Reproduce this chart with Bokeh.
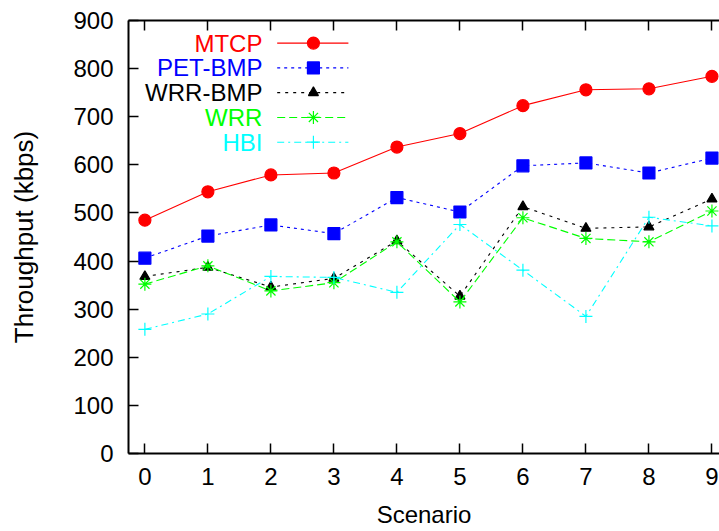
from bokeh.plotting import figure
from bokeh.models import LinearAxis, Range1d, FixedTicker, CustomJSTickFormatter
from bokeh.core.properties import value
from bokeh.embed import file_html
from bokeh.resources import INLINE

# ---- data ----
scenarios = [0, 1, 2, 3, 4, 5, 6, 7, 8, 9]
y_ticks = [0, 100, 200, 300, 400, 500, 600, 700, 800, 900]
series_names = ["MTCP", "PET-BMP", "WRR-BMP", "WRR", "HBI"]
mtcp = [485, 544, 579, 583, 637, 665, 723, 756, 758, 784]
pet_bmp = [406, 452, 475, 457, 532, 502, 598, 604, 583, 614]
wrr_bmp = [368, 387, 346, 364, 442, 327, 513, 468, 471, 529]
wrr = [352, 390, 338, 355, 440, 315, 490, 447, 440, 504]
hbi = [258, 290, 368, 366, 335, 476, 381, 285, 491, 473]

# ---- styles ----
FONT = "Liberation Sans"
colors = ["#ff0000", "#0000ff", "#000000", "#00ff00", "#00ffff"]
markers = ["circle", "square", "triangle", "asterisk", "cross"]
msizes = [12, 12, 10, 13, 13]
dashes = ["solid", "3 4", "3 5", "8 4", "7 4 2 4"]
all_series = [mtcp, pet_bmp, wrr_bmp, wrr, hbi]

p = figure(width=719, height=531, output_backend="svg", toolbar_location=None,
           x_range=Range1d(-0.26, 9.12), y_range=Range1d(0, 900),
           min_border_left=128, min_border_right=0, min_border_top=20,
           min_border_bottom=78)
p.outline_line_color = None
p.xgrid.visible = False
p.ygrid.visible = False
p.background_fill_color = "white"
p.border_fill_color = "white"

p.xaxis.ticker = FixedTicker(ticks=scenarios)
p.yaxis.ticker = FixedTicker(ticks=y_ticks)
for ax in (p.xaxis[0], p.yaxis[0]):
    ax.axis_line_width = 2
    ax.major_tick_in = 10
    ax.major_tick_out = 0
    ax.major_tick_line_width = 1.5
    ax.minor_tick_line_color = None
    ax.major_label_text_font = FONT
    ax.major_label_text_font_size = "24px"
    ax.major_label_text_color = "black"
    ax.axis_label_text_font = FONT
    ax.axis_label_text_font_style = "normal"
    ax.axis_label_text_color = "black"

p.xaxis.axis_label = "Scenario"
p.xaxis.axis_label_text_font_size = "24px"
p.xaxis.major_label_standoff = 14
p.xaxis.axis_label_standoff = 13
p.yaxis.axis_label = "Throughput (kbps)"
p.yaxis.axis_label_text_font_size = "26px"
p.yaxis.major_label_standoff = 15
p.yaxis.axis_label_standoff = 31

# top edge with inward ticks (no labels)
top = LinearAxis(ticker=FixedTicker(ticks=scenarios),
                 formatter=CustomJSTickFormatter(code="return ''"),
                 major_label_text_font_size="1px",
                 major_tick_in=10, major_tick_out=0, major_tick_line_width=1.5,
                 axis_line_width=2, minor_tick_line_color=None, major_label_standoff=0)
p.add_layout(top, "above")

for vals, c, m, s, d in zip(all_series, colors, markers, msizes, dashes):
    p.line(scenarios, vals, line_color=c, line_width=1.1, line_dash=d)
    p.scatter(scenarios, vals, marker=m, size=s, fill_color=c, line_color=c, line_width=1.2)

# ---- key (gnuplot style: label then sample) ----
key_text_x = 1.865
key_line_x0, key_line_x1, key_mark_x = 2.10, 3.23, 2.675
key_y0, key_dy = 853.0, 51.5
key_ys = [key_y0 - i * key_dy for i in range(len(series_names))]

p.text(x=[key_text_x] * len(series_names), y=key_ys, text=series_names,
       text_align="right", text_baseline="middle", text_color=colors,
       text_font=value(FONT), text_font_size="24px")
for yk, c, m, s, d in zip(key_ys, colors, markers, msizes, dashes):
    p.line([key_line_x0, key_line_x1], [yk, yk], line_color=c, line_width=1.1, line_dash=d)
    p.scatter([key_mark_x], [yk], marker=m, size=s, fill_color=c, line_color=c, line_width=1.2)

open("out.html", "w").write(file_html(p, INLINE))
